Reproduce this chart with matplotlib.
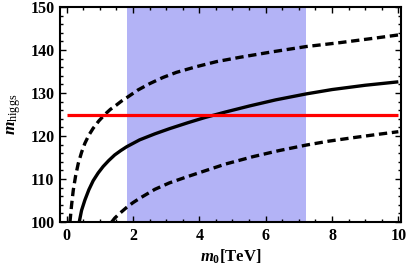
import matplotlib
matplotlib.use("Agg")
import matplotlib.pyplot as plt
from matplotlib.ticker import MultipleLocator

# Data
band = [1.81, 7.21]
higgs_mass = 125.0

solid_x = [0.38, 0.45, 0.55, 0.67, 0.8, 0.95, 1.1, 1.27, 1.45, 1.63, 1.81, 2.2, 2.66, 3.1, 3.66, 4.17, 4.8, 5.52, 6.3, 7.23, 8.0, 9.0, 10.0]
solid_y = [100.0, 102.7, 105.1, 107.5, 109.6, 111.4, 112.9, 114.3, 115.6, 116.6, 117.5, 119.1, 120.5, 121.7, 123.1, 124.3, 125.6, 127.0, 128.4, 129.8, 130.8, 131.8, 132.6]

upper_x = [0.1, 0.15, 0.2, 0.27, 0.35, 0.45, 0.55, 0.67, 0.8, 0.97, 1.15, 1.32, 1.5, 1.65, 1.81, 2.15, 2.51, 2.9, 3.31, 3.9, 4.52, 5.22, 6.22, 7.22, 8.23, 9.23, 10.0]
upper_y = [100.0, 104.0, 107.4, 110.7, 113.6, 116.2, 118.3, 120.2, 121.8, 123.5, 125.0, 126.2, 127.2, 128.1, 128.9, 130.7, 132.2, 133.6, 134.8, 136.1, 137.3, 138.3, 139.6, 140.8, 141.7, 142.7, 143.5]

lower_x = [1.36, 1.45, 1.6, 1.81, 2.0, 2.2, 2.66, 3.1, 3.66, 4.17, 4.8, 5.62, 6.4, 7.23, 7.9, 8.63, 9.3, 10.0]
lower_y = [100.0, 100.9, 102.0, 103.4, 104.5, 105.5, 107.6, 109.1, 110.6, 111.9, 113.5, 115.2, 116.6, 117.9, 118.8, 119.6, 120.3, 121.0]

plt.rcParams['font.family'] = ['Liberation Serif', 'DejaVu Serif']
plt.rcParams['mathtext.fontset'] = 'custom'
plt.rcParams['mathtext.rm'] = 'Liberation Serif'
plt.rcParams['mathtext.it'] = 'Liberation Serif:bold:italic'
plt.rcParams['mathtext.bf'] = 'Liberation Serif:bold'

fig = plt.figure(figsize=(4.07, 2.67), dpi=100)
ax = fig.add_axes([60/407, 1-222/267, 341/407, 215/267])

ax.axvspan(band[0], band[1], color='#b3b3f6', lw=0, zorder=0)
lw = 2.4
ax.plot(solid_x, solid_y, color='black', lw=lw, solid_capstyle='butt', zorder=3)
ax.plot(upper_x, upper_y, color='black', lw=lw, dashes=(2.5, 1.4), dash_capstyle='butt', zorder=3)
ax.plot(lower_x, lower_y, color='black', lw=lw, dashes=(2.5, 1.4), dash_capstyle='butt', zorder=3)
ax.plot([0, 10], [higgs_mass, higgs_mass], color='#ff0000', lw=2.3, zorder=4, solid_capstyle='butt')

ax.set_xlim(-0.2, 10.08)
ax.set_ylim(100, 150)
ax.xaxis.set_major_locator(MultipleLocator(2))
ax.xaxis.set_minor_locator(MultipleLocator(0.5))
ax.yaxis.set_major_locator(MultipleLocator(10))
ax.yaxis.set_minor_locator(MultipleLocator(2))
ax.tick_params(which='both', direction='in', top=True, right=True, width=1.0)
ax.tick_params(which='major', length=4, labelsize=11.5, pad=4)
ax.tick_params(which='minor', length=2)
for lab in ax.get_xticklabels() + ax.get_yticklabels():
    lab.set_fontweight('bold')
for s in ax.spines.values():
    s.set_linewidth(1.5)

ax.set_xlabel(r'$m_{\mathbf{0}}$$\mathbf{[TeV]}$', fontsize=12, labelpad=3)
ax.set_ylabel(r'$m_{\rm higgs}$', fontsize=12.5, labelpad=5)

fig.savefig('out.png', dpi=100)
